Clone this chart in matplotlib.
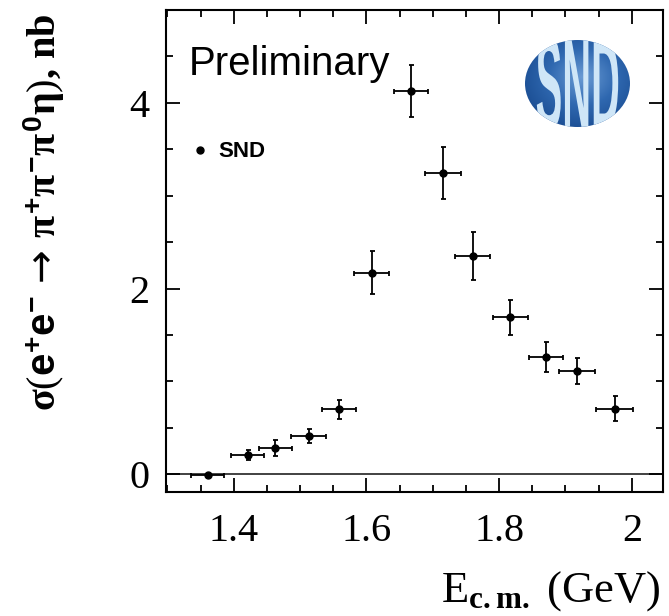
import numpy as np
import matplotlib
matplotlib.use("Agg")
import matplotlib.pyplot as plt
from matplotlib.patches import Ellipse, PathPatch
from matplotlib.textpath import TextPath
from matplotlib.font_manager import FontProperties
from matplotlib.transforms import Affine2D
from matplotlib.ticker import MultipleLocator

plt.rcParams['mathtext.fontset'] = 'custom'
plt.rcParams['mathtext.rm'] = 'Liberation Serif'
plt.rcParams['mathtext.it'] = 'Liberation Serif:bold'
plt.rcParams['mathtext.bf'] = 'Liberation Serif:bold'
plt.rcParams['mathtext.sf'] = 'Liberation Sans:bold'
plt.rcParams['mathtext.tt'] = 'DejaVu Sans'

# SND points, sigma(e+e- -> pi+ pi- pi0 eta) in nb
energy = [1.361, 1.421, 1.463, 1.513, 1.559, 1.608, 1.667, 1.716, 1.760, 1.817, 1.871, 1.918, 1.974]
energy_err = [0.025, 0.025, 0.025, 0.026, 0.026, 0.026, 0.026, 0.027, 0.026, 0.026, 0.026, 0.027, 0.028]
xsec = [-0.01, 0.21, 0.286, 0.413, 0.70, 2.17, 4.13, 3.25, 2.35, 1.69, 1.263, 1.116, 0.707]
xsec_err = [0.0, 0.057, 0.085, 0.08, 0.105, 0.23, 0.28, 0.28, 0.26, 0.19, 0.165, 0.14, 0.137]

x_ticks = [1.4, 1.6, 1.8, 2.0]
x_ticklabels = ['1.4', '1.6', '1.8', '2']
y_ticks = [0, 2, 4]
y_ticklabels = ['0', '2', '4']

W, H = 669, 616
fig = plt.figure(figsize=(W / 100, H / 100), dpi=100)
ax = fig.add_axes([166 / W, 1 - 492 / H, (663 - 166) / W, (492 - 10) / H])

ax.axhline(0, color='#333333', lw=1.3, zorder=1)
ax.errorbar(energy, xsec, xerr=energy_err, yerr=xsec_err, fmt='o', color='black',
            ms=5, elinewidth=1.3, capsize=1.8, capthick=1.3, zorder=3)

ax.set_xlim(1.298, 2.047)
ax.set_ylim(-0.19, 5.0)
ax.set_xticks(x_ticks)
ax.set_xticklabels(x_ticklabels)
ax.set_yticks(y_ticks)
ax.set_yticklabels(y_ticklabels)
ax.xaxis.set_minor_locator(MultipleLocator(0.05))
ax.yaxis.set_minor_locator(MultipleLocator(0.5))
ax.tick_params(which='both', direction='in', top=True, right=True, width=1.3, colors='black')
ax.tick_params(which='major', length=10)
ax.tick_params(which='minor', length=5)
ax.tick_params(axis='x', which='major', pad=15)
ax.tick_params(axis='y', which='major', pad=12)
for lab in ax.get_xticklabels() + ax.get_yticklabels():
    lab.set_fontfamily('Liberation Serif')
    lab.set_fontsize(29)
for s in ax.spines.values():
    s.set_linewidth(1.5)

# texts
fig.text(189 / W, 1 - 75 / H, 'Preliminary', family='Liberation Sans', fontsize=29,
         va='baseline', ha='left')
ax.plot([200 / W], [1 - 150 / H], 'o', color='black', ms=5, transform=fig.transFigure,
        clip_on=False)
fig.text(218 / W, 1 - 157 / H, 'SND', family='Liberation Sans', fontweight='bold',
         fontsize=16, va='baseline', ha='left')

fig.text(660 / W, 1 - 602 / H, r'E$_{\mathbf{c.m.}}$ (GeV)', family='Liberation Serif',
         fontsize=32, ha='right', va='baseline')
ylab = (r'$\sigma(\mathsf{e}^{\mathsf{+}}\mathsf{e}^{\mathsf{-}}\,\mathtt{\rightarrow}\,'
        r'\pi^{\mathsf{+}}\pi^{\mathsf{-}}\pi^{\mathsf{0}}\eta)$, nb')
fig.text(44 / W, 1 - 13 / H, ylab, family='Liberation Serif', fontweight='bold',
         fontsize=29, rotation=90, ha='center', va='top')

# SND logo
lax = fig.add_axes([525 / W, 1 - 127 / H, 105 / W, 87 / H])
lax.set_xlim(-1, 1)
lax.set_ylim(-1, 1)
lax.axis('off')
gx, gy = np.meshgrid(np.linspace(-1, 1, 200), np.linspace(-1, 1, 200))
r = np.sqrt((gx - 0.1) ** 2 + (gy - 0.15) ** 2)
cmap = matplotlib.colors.LinearSegmentedColormap.from_list('snd', ['#6a9bd4', '#2f68b0', '#184a8f'])
img = lax.imshow(r, extent=(-1, 1, -1, 1), origin='lower', cmap=cmap, vmin=0, vmax=1.3,
                 aspect='auto')
ell = Ellipse((0, 0), 2, 2, transform=lax.transData, facecolor='none', edgecolor='none')
lax.add_patch(ell)
img.set_clip_path(ell)

# tall, narrow letters filling the ellipse
tp = TextPath((0, 0), 'SND', prop=FontProperties(family='Liberation Sans', weight='bold'))
ext = tp.get_extents()
sx = 1.55 / ext.width
sy = 2.1 / ext.height
tr = Affine2D().translate(-ext.x0 - ext.width / 2, -ext.y0 - ext.height / 2).scale(sx, sy)
logo_txt = PathPatch(tr.transform_path(tp), facecolor='#cfe6f7', edgecolor='none',
                     transform=lax.transData)
lax.add_patch(logo_txt)
logo_txt.set_clip_path(ell)

fig.savefig('out.png', dpi=100)
